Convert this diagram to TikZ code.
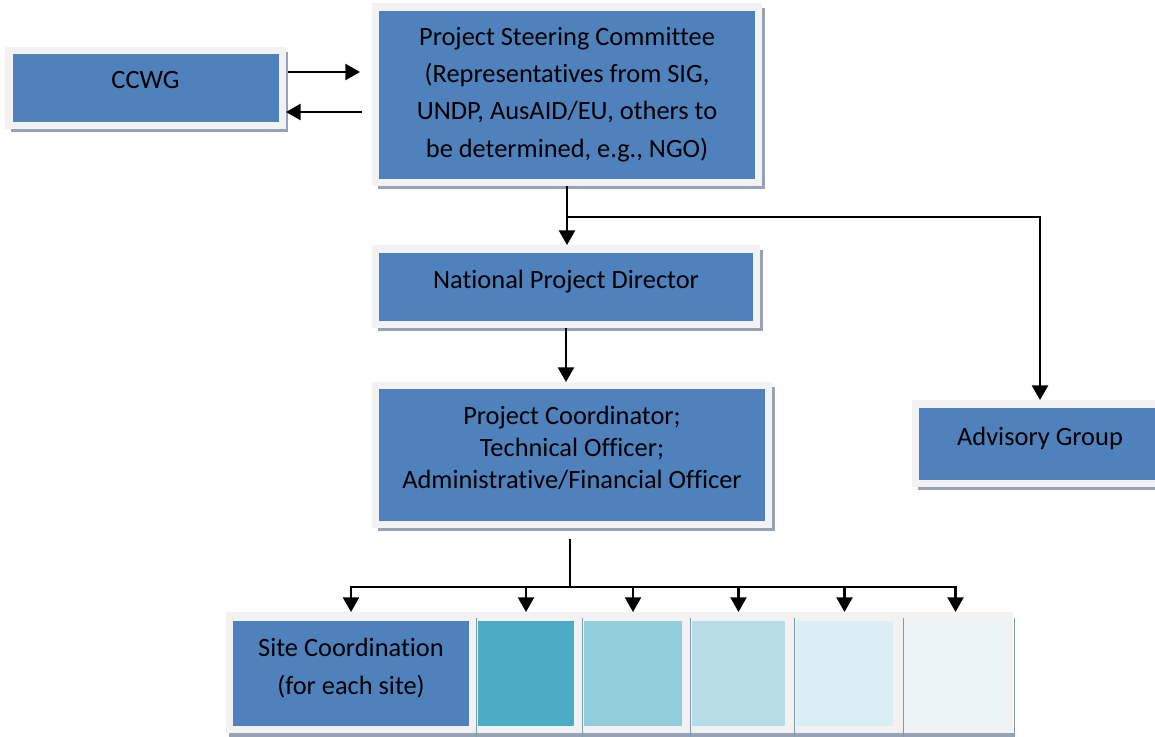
\documentclass[tikz,border=0pt]{standalone}
\usepackage{fontspec}
\setmainfont{Carlito}[Ligatures=NoCommon]
\usetikzlibrary{arrows.meta,calc,backgrounds}

\definecolor{boxblue}{HTML}{4F81BD}
\definecolor{framegray}{HTML}{F2F2F2}
\definecolor{shadegray}{HTML}{97A3B4}
\definecolor{sepgray}{HTML}{7F9DA7}
\definecolor{tealA}{HTML}{4BACC6}
\definecolor{tealB}{HTML}{92CDDC}
\definecolor{tealC}{HTML}{B7DEE8}
\definecolor{tealD}{HTML}{DAEEF3}
\definecolor{tealE}{HTML}{EBF5F8}

\newcommand{\botpad}{\rule[-11.5pt]{0pt}{0pt}}

\tikzset{
  orgbox/.style={rectangle, fill=boxblue, draw=framegray, line width=5.6pt,
    outer sep=2.8pt, inner sep=0pt, align=center,
    font=\fontsize{19.8}{28}\selectfont},
  sitebox/.style={rectangle, inner sep=0pt, outer xsep=0pt, outer ysep=6.75pt,
    minimum height=78.75pt, align=center,
    font=\fontsize{19.8}{28.5}\selectfont},
  link/.style={line width=1.7pt},
  arr/.style={link, -{Triangle[width=12pt,length=11pt]}},
  sepline/.style={sepgray, line width=1.1pt},
}

\begin{document}
\begin{tikzpicture}[x=0.75pt,y=-0.75pt]
  \useasboundingbox (0,0) rectangle (1155,736);

  % boxes
  \node[orgbox, minimum width=205.1pt, minimum height=55.9pt] (ccwg) at (145.5,88) {CCWG\botpad};
  \node[orgbox, minimum width=286.9pt, minimum height=131.6pt] (psc) at (567,94.5)
    {Project Steering Committee\\(Representatives from SIG,\\UNDP, AusAID/EU, others to\\be determined, e.g., NGO)};
  \node[orgbox, minimum width=285.4pt, minimum height=56.6pt] (npd) at (566,286.5) {National Project Director\botpad};
  \node[orgbox, minimum width=294.4pt, minimum height=103.9pt, font=\fontsize{19.8}{24}\selectfont] (pc) at (572,455)
    {Project Coordinator;\\Technical Officer;\\Administrative/Financial Officer\botpad};
  \node[orgbox, minimum width=186.4pt, minimum height=59.6pt] (ag) at (1040,443.5) {Advisory Group\botpad};

  % site row
  \node[sitebox, fill=boxblue, minimum width=177pt] (s1) at (351,673.5) {Site Coordination\\(for each site)\botpad};
  \node[sitebox, fill=tealA, minimum width=72pt] (s2) at (526,673.5) {};
  \node[sitebox, fill=tealB, minimum width=73.5pt] (s3) at (633,673.5) {};
  \node[sitebox, fill=tealC, minimum width=69.75pt] (s4) at (738.5,673.5) {};
  \node[sitebox, fill=tealD, minimum width=72.75pt] (s5) at (844.5,673.5) {};
  \node[sitebox, fill=tealE, minimum width=75.75pt] (s6) at (955.5,673.5) {};

  \foreach \i in {2,...,6}
    \draw[sepline] ($(s\i.north west)+(-1.5,6)$) -- ($(s\i.south west)+(-1.5,5)$);
  \draw[sepline] ($(s6.north east)+(8.5,6)$) -- ($(s6.south east)+(8.5,5)$);

  \begin{pgfonlayer}{background}
    \foreach \n in {ccwg,psc,npd,pc,ag}
      \fill[shadegray] ($(\n.north west)+(6,5)$) rectangle ($(\n.south east)+(2.5,3)$);
    \fill[shadegray] ($(s1.south west)+(-4,-2)$) rectangle ($(s6.south east)+(9,2)$);
    \fill[framegray] ($(s1.north west)+(-7,0)$) rectangle ($(s6.south east)+(7,-2)$);
  \end{pgfonlayer}

  % connectors
  \draw[arr] ($(ccwg.east)+(2,-16)$) -- ($(psc.west |- ccwg.east)+(-12,-16)$);
  \draw[arr] ($(psc.west |- ccwg.east)+(-10,24)$) -- ($(ccwg.east)+(0,24)$);
  \draw[arr] (psc.south) -- (psc.south |- npd.north);
  \coordinate (fork) at ($(psc.south)+(0,31)$);
  \draw[arr] (fork) -| (ag.north);
  \draw[arr] (npd.south) -- (npd.south |- pc.north);
  \coordinate (bus) at ($(pc.south)+(-2,59)$);
  \draw[link] ($(pc.south)+(-2,11)$) -- (bus);
  \foreach \i in {1,...,6}
    \draw[arr] (bus) -| (s\i.north);
\end{tikzpicture}
\end{document}
